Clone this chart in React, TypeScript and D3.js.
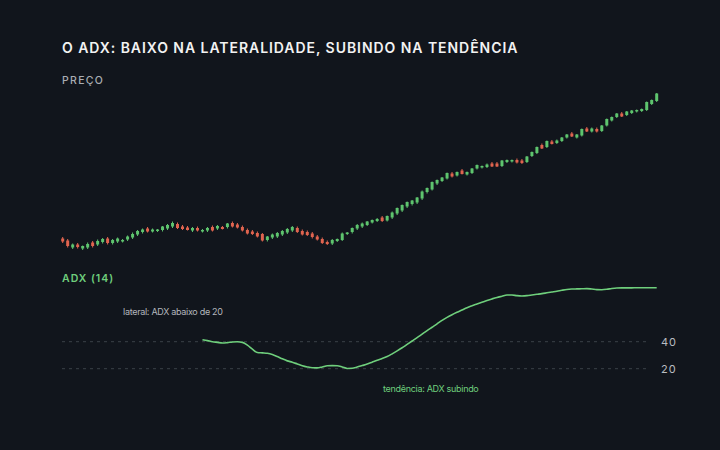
import { useRef, useEffect } from "react";
import * as d3 from "d3";

// candles: [open, high, low, close] (unidades de preço arbitrárias)
const candles: [number, number, number, number][] = [
  [11.5, 13, 7, 8.5], [9.5, 11, 2.5, 4], [2.5, 6.5, 1, 5.5], [5.5, 7, 1.5, 3],
  [1.5, 4.5, 0, 4], [2.5, 7.5, 1, 6], [7.5, 9, 2.5, 4], [5.5, 10.5, 4, 9],
  [8, 12, 6.5, 11], [11.5, 13, 5.5, 7], [7, 11, 5.5, 10], [8.5, 12.5, 7, 11.5],
  [8.5, 11, 7.5, 10], [10.5, 14.5, 9, 13.5], [12.5, 17.5, 11, 16], [15.5, 20, 14, 19],
  [18, 21.5, 16.5, 20.5], [21.5, 23, 17.5, 18.5], [18.5, 21.5, 17.5, 20.5], [19, 21, 18, 20.5],
  [20, 24, 18.5, 23.5], [21.5, 26, 20, 25], [23.5, 28.5, 22, 27], [26, 27.5, 21, 22],
  [23.5, 25, 20, 21], [22.5, 24, 19.5, 20], [19.5, 23, 18, 22], [22, 23.5, 18.5, 19.5],
  [18.5, 21, 17.5, 20], [19.5, 23, 18, 22], [23, 24.5, 18.5, 19.5], [21.5, 25, 20, 24],
  [23, 24, 20.5, 21], [23, 27, 21.5, 26.5], [27, 28.5, 22.5, 23.5], [25.5, 27, 21.5, 22.5],
  [23, 24.5, 18.5, 19.5], [20, 21.5, 15.5, 16.5], [18.5, 20, 15, 16], [17, 18.5, 12.5, 13.5],
  [16, 17, 8.5, 9.5], [10, 14, 8.5, 13.5], [12.5, 16.5, 11, 15.5], [13.5, 18, 12, 17],
  [15.5, 20, 14, 19], [17.5, 22, 16, 21], [19.5, 24, 18, 23], [22, 23.5, 17, 18],
  [19, 20.5, 14.5, 15.5], [18, 19.5, 14, 15], [16.5, 18, 11.5, 13], [13.5, 15, 9.5, 10.5],
  [11, 12.5, 6, 7], [8, 9.5, 5, 6], [6.5, 11, 5, 10], [9, 11.5, 8, 11],
  [10, 17.5, 9, 16.5], [16, 18, 15, 17.5], [18, 22.5, 16.5, 22], [21.5, 26, 20, 25],
  [23.5, 27.5, 22, 26.5], [25, 29, 24, 28.5], [27.5, 30.5, 26.5, 30], [29, 32, 28, 31],
  [32.5, 34, 28, 29], [29.5, 34.5, 28.5, 34], [32.5, 38.5, 31, 37.5], [36.5, 42.5, 35, 42],
  [39.5, 45.5, 38, 45], [43.5, 48.5, 42, 48], [46, 50, 44.5, 49.5], [47.5, 53, 46, 52.5],
  [51.5, 59.5, 50, 58.5], [58, 62.5, 56.5, 62], [60.5, 68.5, 59.5, 68], [66.5, 70.5, 65, 70],
  [69, 73, 68, 72.5], [71.5, 77.5, 70.5, 77], [76.5, 78, 72.5, 73.5], [74.5, 78.5, 73.5, 78],
  [79.5, 81, 75.5, 76], [75.5, 78.5, 74.5, 78], [77, 82, 76, 81.5], [81.5, 85.5, 80.5, 85],
  [82.5, 84.5, 81.5, 84], [83, 86.5, 82, 85.5], [86.5, 88, 83, 83.5], [86.5, 88, 83, 83.5],
  [84, 90, 83, 89.5], [88, 90.5, 87, 90], [88.5, 90.5, 87.5, 90], [90, 91.5, 86.5, 87.5],
  [89.5, 91, 86, 87], [88, 94, 87, 93.5], [94, 98.5, 93, 98], [97, 103.5, 96, 103],
  [105, 106.5, 101, 101.5], [103, 109.5, 102, 109], [108.5, 110, 105.5, 106], [107, 110.5, 106, 109.5],
  [109, 113, 108, 112.5], [112.5, 116, 111.5, 115.5], [116.5, 118, 113, 113.5], [112.5, 116, 111.5, 115.5],
  [114.5, 121.5, 113.5, 121], [121.5, 123, 118, 118.5], [118.5, 122.5, 117.5, 121.5], [121, 122.5, 117.5, 118.5],
  [119, 125, 118, 124.5], [124.5, 131.5, 123.5, 131], [129.5, 133.5, 128.5, 133], [133, 137, 132, 136.5],
  [136.5, 138, 133, 133.5], [135, 139, 134, 138.5], [137, 140, 136, 139.5], [138.5, 140.5, 137.5, 140],
  [139, 141.5, 138, 141], [140, 148.5, 139, 148], [146, 150.5, 145, 150], [149, 157, 148, 156.5],
];

// ADX(14) começa no candle 28
const adxStart = 28;
const adxValues = [
  41.5, 40.8, 40, 39.5, 39, 39.3, 39.8, 40, 39.5, 37.5,
  34.5, 32, 31.7, 31.4, 30.5, 29, 27.3, 25.8, 24.8, 23.5,
  22.2, 21.3, 20.7, 20.6, 21.3, 22.2, 22.3, 22.2, 21.3, 20.2,
  20.3, 21.2, 22.3, 23.4, 24.8, 26.2, 27.5, 29, 31, 33.2,
  35.5, 38, 40.5, 43, 45.6, 48.2, 50.7, 53.2, 55.8, 58,
  60, 61.8, 63.5, 65.2, 66.6, 67.9, 69.2, 70.5, 71.7, 72.8,
  73.7, 74.6, 74.6, 74.1, 73.9, 74.1, 74.6, 75.1, 75.6, 76.2,
  76.8, 77.4, 78.1, 78.7, 79, 79.1, 79.2, 79.3, 79, 78.6,
  78.5, 78.8, 79.4, 79.8, 79.9, 79.9, 79.9, 80, 80, 80,
  80, 80,
];

const adxTicks = [40, 20];

const title = "O ADX: BAIXO NA LATERALIDADE, SUBINDO NA TENDÊNCIA";
const priceLabel = "PREÇO";
const adxLabel = "ADX (14)";
const noteLateral = "lateral: ADX abaixo de 20";
const noteTrend = "tendência: ADX subindo";

const W = 720;
const H = 450;
const BG = "#11151c";
const UP = "#5ec46e";
const DOWN = "#e0644f";
const ADX_COLOR = "#6fcf7c";
const FONT = "Inter, 'Noto Sans', sans-serif";

const App = () => {
  const svgRef = useRef<SVGSVGElement | null>(null);

  useEffect(() => {
    if (!svgRef.current) return;
    document.body.style.margin = "0";
    document.body.style.background = BG;

    const svg = d3.select(svgRef.current);
    svg.selectAll("*").remove();

    svg.append("rect").attr("width", W).attr("height", H).attr("fill", BG);

    // escalas
    const x = d3.scaleLinear().domain([0, candles.length - 1]).range([62.7, 656.7]);
    const yPrice = d3.scaleLinear().domain([0, 160]).range([250, 90]);
    const yAdx = d3.scaleLinear().domain([0, 80]).range([395.7, 287.7]);

    // títulos
    svg.append("text")
      .attr("x", 62).attr("y", 53)
      .attr("fill", "#f2f2f2")
      .attr("font-family", FONT)
      .attr("font-size", 14)
      .attr("font-weight", 600)
      .attr("letter-spacing", 0.95)
      .text(title);

    svg.append("text")
      .attr("x", 62).attr("y", 84)
      .attr("fill", "#a9adb3")
      .attr("font-family", FONT)
      .attr("font-size", 10.5)
      .attr("font-weight", 500)
      .attr("letter-spacing", 1.3)
      .text(priceLabel);

    // candles
    const bodyW = 3;
    const g = svg.append("g");
    const c = g.selectAll("g.candle").data(candles).enter().append("g");
    c.append("line")
      .attr("x1", (_, i) => x(i)).attr("x2", (_, i) => x(i))
      .attr("y1", (d) => yPrice(d[1])).attr("y2", (d) => yPrice(d[2]))
      .attr("stroke", (d) => (d[3] >= d[0] ? UP : DOWN))
      .attr("stroke-width", 1);
    c.append("rect")
      .attr("x", (_, i) => x(i) - bodyW / 2)
      .attr("width", bodyW)
      .attr("y", (d) => yPrice(Math.max(d[0], d[3])))
      .attr("height", (d) => Math.max(1, Math.abs(yPrice(d[0]) - yPrice(d[3]))))
      .attr("fill", (d) => (d[3] >= d[0] ? UP : DOWN));

    // ADX
    svg.append("text")
      .attr("x", 62).attr("y", 282)
      .attr("fill", ADX_COLOR)
      .attr("font-family", FONT)
      .attr("font-size", 10.5)
      .attr("font-weight", 600)
      .attr("letter-spacing", 1)
      .text(adxLabel);

    adxTicks.forEach((t) => {
      svg.append("line")
        .attr("x1", 62).attr("x2", 650)
        .attr("y1", yAdx(t)).attr("y2", yAdx(t))
        .attr("stroke", "#3b4048")
        .attr("stroke-width", 1)
        .attr("stroke-dasharray", "3,4");
      svg.append("text")
        .attr("x", 661).attr("y", yAdx(t) + 4)
        .attr("fill", "#b9bcc1")
        .attr("font-family", FONT)
        .attr("font-size", 11)
        .attr("letter-spacing", 1)
        .text(t);
    });

    const line = d3.line<number>()
      .x((_, i) => x(i + adxStart))
      .y((d) => yAdx(d))
      .curve(d3.curveMonotoneX);

    svg.append("path")
      .datum(adxValues)
      .attr("d", line)
      .attr("fill", "none")
      .attr("stroke", ADX_COLOR)
      .attr("stroke-width", 1.6);

    svg.append("text")
      .attr("x", 123).attr("y", 315)
      .attr("fill", "#b4b7bc")
      .attr("font-family", FONT)
      .attr("font-size", 9)
      .attr("letter-spacing", -0.3)
      .text(noteLateral);

    svg.append("text")
      .attr("x", 383).attr("y", 392)
      .attr("fill", ADX_COLOR)
      .attr("font-family", FONT)
      .attr("font-size", 9)
      .attr("letter-spacing", -0.3)
      .text(noteTrend);
  }, []);

  return <svg ref={svgRef} width={W} height={H} style={{ display: "block" }}></svg>;
};

export default App;
